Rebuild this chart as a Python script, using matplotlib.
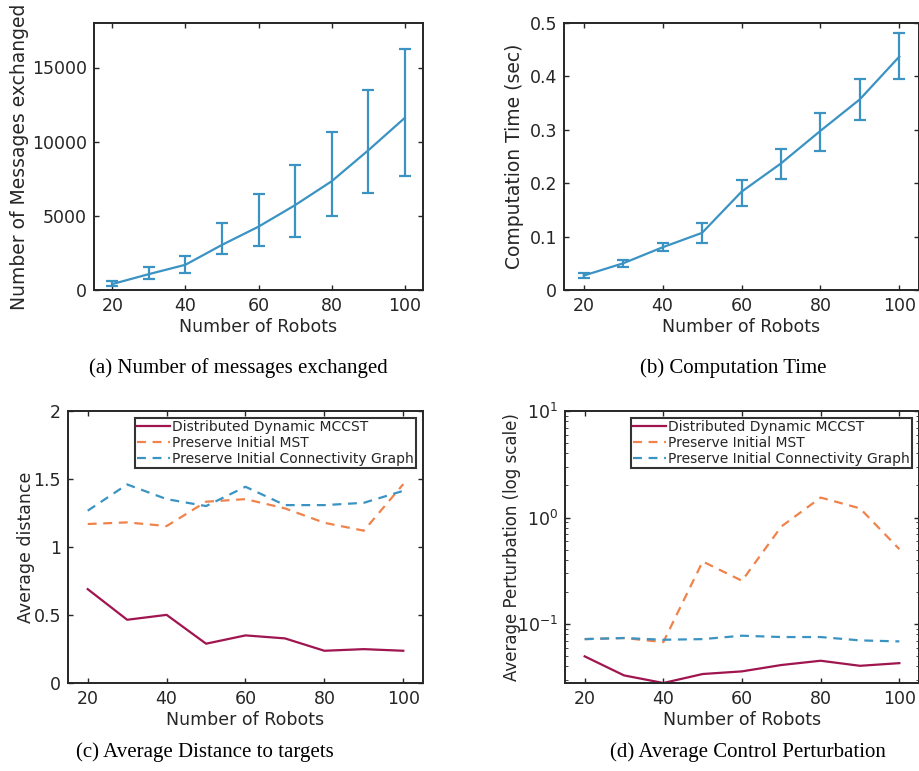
import numpy as np
import matplotlib.pyplot as plt

# data
robots = [20, 30, 40, 50, 60, 70, 80, 90, 100]

msg_mean = [400, 1070, 1700, 3040, 4270, 5720, 7330, 9410, 11600]
msg_low = [250, 740, 1140, 2410, 2970, 3580, 5010, 6570, 7670]
msg_high = [630, 1520, 2260, 4540, 6460, 8430, 10620, 13480, 16230]

time_mean = [0.027, 0.050, 0.080, 0.107, 0.184, 0.237, 0.298, 0.357, 0.437]
time_low = [0.022, 0.044, 0.073, 0.088, 0.158, 0.208, 0.260, 0.318, 0.395]
time_high = [0.032, 0.056, 0.088, 0.126, 0.206, 0.264, 0.331, 0.395, 0.481]

dist_mccst = [0.690, 0.465, 0.501, 0.289, 0.350, 0.328, 0.237, 0.249, 0.237]
dist_mst = [1.169, 1.181, 1.154, 1.333, 1.352, 1.284, 1.178, 1.120, 1.462]
dist_conn = [1.267, 1.460, 1.352, 1.301, 1.443, 1.308, 1.308, 1.325, 1.413]

pert_mccst = [0.0498, 0.033, 0.028, 0.034, 0.036, 0.0413, 0.0453, 0.0406, 0.043]
pert_mst = [0.0723, 0.0740, 0.0678, 0.387, 0.255, 0.824, 1.54, 1.22, 0.505]
pert_conn = [0.0723, 0.0740, 0.0713, 0.0723, 0.0778, 0.0756, 0.0756, 0.0703, 0.0688]

series_names = ["Distributed Dynamic MCCST", "Preserve Initial MST",
                "Preserve Initial Connectivity Graph"]
captions = ["(a) Number of messages exchanged", "(b) Computation Time",
            "(c) Average Distance to targets", "(d) Average Control Perturbation"]

c_blue = "#3a93c3"
c_red = "#a0144f"
c_orange = "#f0834c"
c_text = "#262626"

plt.rcParams["font.family"] = "DejaVu Sans"
plt.rcParams["font.size"] = 12.5
plt.rcParams["text.color"] = c_text
plt.rcParams["axes.labelcolor"] = c_text
plt.rcParams["xtick.color"] = c_text
plt.rcParams["ytick.color"] = c_text

fig = plt.figure(figsize=(9.2, 7.71), dpi=100)
W, H = 920.0, 771.0


def box(l, t, r, b):
    return [l / W, 1 - b / H, (r - l) / W, (b - t) / H]


def style(ax):
    ax.tick_params(direction="in", top=True, right=True, length=3.5, width=1,
                   labelsize=12.5, pad=5)
    ax.tick_params(which="minor", direction="in", right=True, length=2)
    for s in ax.spines.values():
        s.set_linewidth(1.4)
        s.set_color(c_text)
    ax.set_xlim(15, 105)
    ax.set_xticks([20, 40, 60, 80, 100])
    ax.set_xlabel("Number of Robots", fontsize=12.5, labelpad=2)


x = np.array(robots)

# (a)
ax1 = fig.add_axes(box(94, 23, 423, 290))
m = np.array(msg_mean)
ax1.errorbar(x, m, yerr=[m - np.array(msg_low), np.array(msg_high) - m],
             color=c_blue, lw=1.6, capsize=4.5, capthick=1.6, elinewidth=1.6)
ax1.set_ylim(0, 18000)
ax1.set_yticks([0, 5000, 10000, 15000])
ax1.set_ylabel("Number of Messages exchanged", fontsize=13.5, labelpad=2)
style(ax1)

# (b)
ax2 = fig.add_axes(box(564, 23, 919, 290))
t = np.array(time_mean)
ax2.errorbar(x, t, yerr=[t - np.array(time_low), np.array(time_high) - t],
             color=c_blue, lw=1.6, capsize=4.5, capthick=1.6, elinewidth=1.6)
ax2.set_ylim(0, 0.5)
ax2.set_yticks([0, 0.1, 0.2, 0.3, 0.4, 0.5])
ax2.set_yticklabels(["0", "0.1", "0.2", "0.3", "0.4", "0.5"])
ax2.set_ylabel("Computation Time (sec)", fontsize=13.5, labelpad=4)
style(ax2)

# (c)
ax3 = fig.add_axes(box(68, 411, 423, 683))
ax3.plot(x, dist_mccst, color=c_red, lw=1.6, label=series_names[0])
ax3.plot(x, dist_mst, color=c_orange, lw=1.6, ls=(0, (4, 3)), label=series_names[1])
ax3.plot(x, dist_conn, color=c_blue, lw=1.6, ls=(0, (4, 3)), label=series_names[2])
ax3.set_ylim(0, 2)
ax3.set_yticks([0, 0.5, 1, 1.5, 2])
ax3.set_yticklabels(["0", "0.5", "1", "1.5", "2"])
ax3.set_ylabel("Average distance", fontsize=12.5, labelpad=-1)
style(ax3)

# (d)
ax4 = fig.add_axes(box(565, 411, 919, 683))
ax4.plot(x, pert_mccst, color=c_red, lw=1.6, label=series_names[0])
ax4.plot(x, pert_mst, color=c_orange, lw=1.6, ls=(0, (4, 3)), label=series_names[1])
ax4.plot(x, pert_conn, color=c_blue, lw=1.6, ls=(0, (4, 3)), label=series_names[2])
ax4.set_yscale("log")
ax4.set_ylim(0.028, 10)
ax4.set_ylabel("Average Perturbation (log scale)", fontsize=12, labelpad=-3)
style(ax4)

for ax in (ax3, ax4):
    leg = ax.legend(loc="upper right", fontsize=10, frameon=True, fancybox=False,
                    edgecolor="black", handlelength=2.4, handletextpad=0.15,
                    labelspacing=0.15, borderpad=0.15, borderaxespad=0.5)
    leg.get_frame().set_linewidth(1.5)

cap_pos = [(238, 368), (733, 368), (205, 752), (748, 752)]
for (cx, cy), txt in zip(cap_pos, captions):
    fig.text(cx / W, 1 - cy / H, txt, family="Liberation Serif", fontsize=15,
             color="black", ha="center", va="center")

fig.savefig("out.png", dpi=100)
